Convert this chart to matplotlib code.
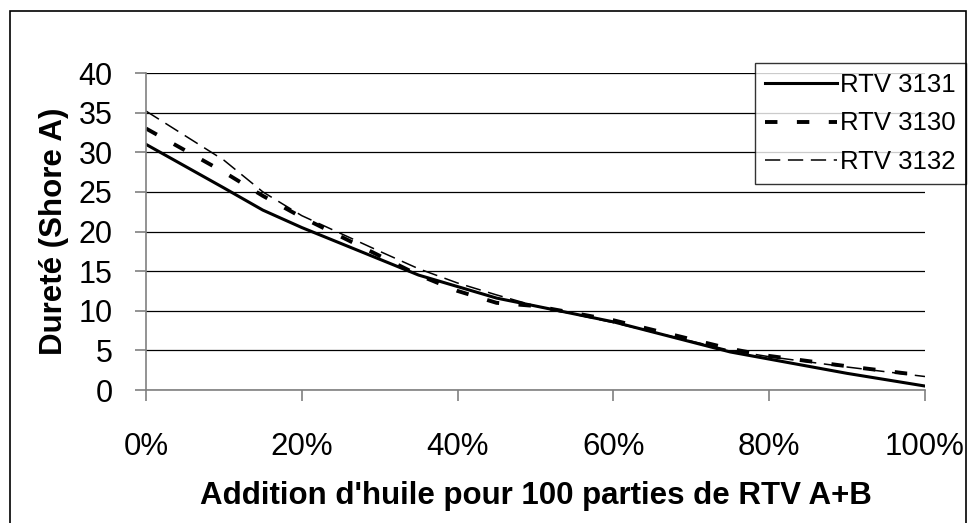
import matplotlib.pyplot as plt
from matplotlib.ticker import FuncFormatter

plt.rcParams['font.family'] = ['Liberation Sans', 'DejaVu Sans']

# oil addition (%) and hardness (Shore A)
x_3131 = [0, 10, 15, 20, 35, 45, 50, 60, 75, 80, 90, 100]
y_3131 = [31, 25.5, 22.7, 20.5, 14.5, 11.6, 10.6, 8.6, 4.8, 3.9, 2.1, 0.5]

x_3130 = [0, 10, 15, 20, 35, 40, 45, 50, 60, 75, 80, 90, 100]
y_3130 = [33, 27.5, 24.5, 21.8, 14.5, 12.5, 11.0, 10.6, 8.8, 5.2, 4.3, 3.0, 1.8]

x_3132 = [0, 10, 15, 20, 30, 35, 40, 45, 50, 60, 75, 80, 90, 100]
y_3132 = [35.2, 29, 25, 22, 17.5, 15.3, 13.5, 12, 10.6, 8.5, 5.0, 4.2, 2.9, 1.7]

labels = ['RTV 3131', 'RTV 3130', 'RTV 3132']

fig = plt.figure(figsize=(9.7, 5.23), dpi=100)
ax = fig.add_axes([0.1505, 0.2543, 0.8031, 0.6061])

ax.plot(x_3131, y_3131, color='black', lw=2.2, label=labels[0])
ax.plot(x_3130, y_3130, color='black', lw=2.8, dashes=(3.2, 5.0), label=labels[1])
ax.plot(x_3132, y_3132, color='black', lw=1.1, dashes=(10, 5), label=labels[2])

ax.set_xlim(0, 100)
ax.set_ylim(0, 40)
ax.set_yticks(range(0, 41, 5))
ax.set_xticks(range(0, 101, 20))
ax.xaxis.set_major_formatter(FuncFormatter(lambda v, p: '%d%%' % v))
ax.grid(axis='y', color='black', lw=0.9)
ax.set_axisbelow(True)

for s in ['top', 'right']:
    ax.spines[s].set_visible(False)
for s in ['left', 'bottom']:
    ax.spines[s].set_color('#808080')
    ax.spines[s].set_linewidth(1.2)
ax.tick_params(axis='y', length=8, width=1.2, color='#808080', pad=16, labelsize=22)
ax.tick_params(axis='x', length=8, width=1.2, color='#808080', pad=22, labelsize=22.5)

ax.set_ylabel('Dureté (Shore A)', fontsize=22.5, fontweight='bold', labelpad=7)
ax.set_xlabel("Addition d'huile pour 100 parties de RTV A+B", fontsize=22.5,
              fontweight='bold', labelpad=14)

leg = ax.legend(loc='upper left', bbox_to_anchor=(0.7817, 1.0313), fontsize=18.5,
                frameon=True, fancybox=False, handlelength=2.8, handletextpad=0.12,
                borderpad=0.4, labelspacing=0.55, borderaxespad=0)
leg.get_frame().set_edgecolor('black')
leg.get_frame().set_linewidth(1.0)

# outer chart border
fig.patches.append(plt.Rectangle((0.0103, -0.01), 0.9856, 0.9885, transform=fig.transFigure,
                                 fill=False, edgecolor='black', lw=1.2))

fig.savefig('out.png', dpi=100)
